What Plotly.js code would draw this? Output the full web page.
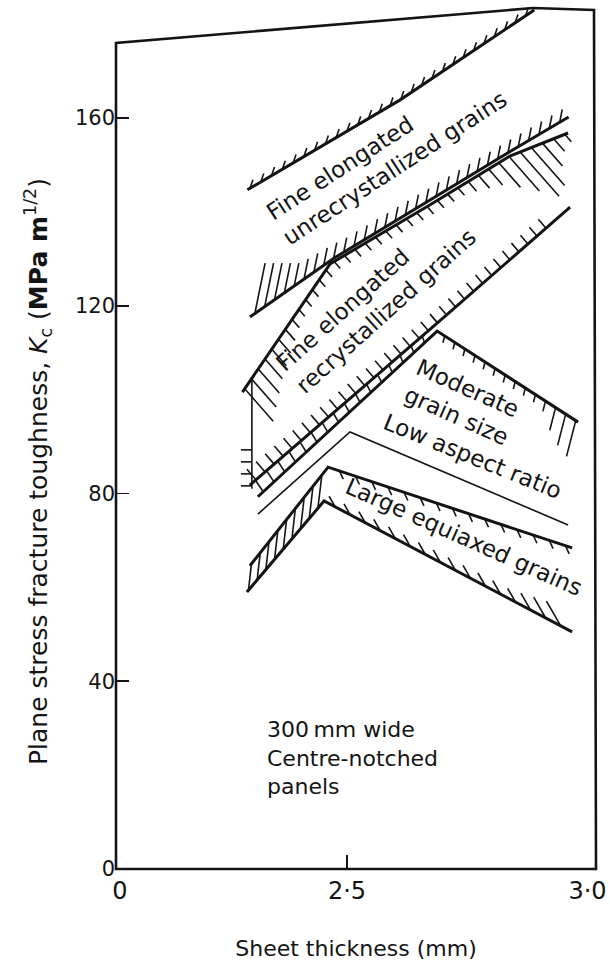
<!DOCTYPE html>
<html><head><meta charset="utf-8">
<script src="https://cdn.plot.ly/plotly-3.0.1.min.js"></script>
<style>html,body{margin:0;padding:0;background:#fff}</style>
</head><body><div id="chart" style="width:610px;height:964px"></div>
<script>
// ---- Data: sheet thickness (mm) vs plane stress fracture toughness Kc (MPa m^1/2) ----
const unrecUpperX = [2.30, 2.606, 2.876];
const unrecUpperY = [144.7, 163.8, 183.0];
const unrecLowerX = [2.305, 2.475, 2.825, 2.945];
const unrecLowerY = [117.6, 130.2, 152.7, 160.2];
const recrUpperX = [2.29, 2.466, 2.667, 2.827, 2.944];
const recrUpperY = [101.6, 128.9, 141.5, 151.9, 156.8];
const recrLowerX = [2.305, 2.677, 2.948];
const recrLowerY = [81.8, 115.9, 141.0];
const recrEdgeX = [2.309, 2.309];
const recrEdgeY = [104.7, 81.0];
const modUpperX = [2.321, 2.681, 2.964];
const modUpperY = [79.3, 114.6, 95.2];
const modLowerX = [2.321, 2.506, 2.944];
const modLowerY = [75.6, 93.1, 73.3];
const largeUpperX = [2.305, 2.462, 2.952];
const largeUpperY = [64.6, 85.6, 68.4];
const largeLowerX = [2.299, 2.454, 2.952];
const largeLowerY = [59.0, 78.4, 50.5];

const xTickVals = [2.044, 2.5, 2.983];
const xTickText = ['0', '2·5', '3·0'];
const yTickVals = [0, 40, 80, 120, 160];
const yTickText = ['0', '40', '80', '120', '160'];

// ---- Layout geometry ----
const INK = '#141414';
const FONT = 'DejaVu Sans';
const W = 610, H = 964;
const M = {l: 116, r: 14, t: 7, b: 95};
const plotW = W - M.l - M.r, plotH = H - M.t - M.b;
const xRange = [2.5 - 231 / 498, 3.0];
const yRange = [0, plotH / 4.694];

function toPx(x, y) {
  return [M.l + (x - xRange[0]) / (xRange[1] - xRange[0]) * plotW,
          M.t + (yRange[1] - y) / (yRange[1] - yRange[0]) * plotH];
}
function fromPx(p, q) {
  return [xRange[0] + (p - M.l) / plotW * (xRange[1] - xRange[0]),
          yRange[1] - (q - M.t) / plotH * (yRange[1] - yRange[0])];
}
function paper(p, q) { return {x: (p - M.l) / plotW, y: (H - M.b - q) / plotH}; }

function interp(pairs, f) {
  if (f <= pairs[0][0]) return pairs[0][1];
  for (let i = 1; i < pairs.length; i++) {
    if (f <= pairs[i][0]) {
      const a = pairs[i - 1], b = pairs[i];
      return a[1] + (b[1] - a[1]) * (f - a[0]) / (b[0] - a[0]);
    }
  }
  return pairs[pairs.length - 1][1];
}

// hatch ticks along a boundary line (computed from the line's own data)
function hatch(xs, ys, o, out) {
  const P = xs.map((x, i) => toPx(x, ys[i]));
  const cum = [0];
  for (let i = 1; i < P.length; i++) cum.push(cum[i - 1] + Math.hypot(P[i][0] - P[i - 1][0], P[i][1] - P[i - 1][1]));
  const L = cum[cum.length - 1];
  const d = o.dir, dn = Math.hypot(d[0], d[1]);
  const s0 = (o.from || 0) * L + (o.offset || 0), s1 = (o.to == null ? 1 : o.to) * L;
  for (let s = s0; s <= s1 + 0.01; s += o.step) {
    let k = 0;
    while (k < cum.length - 2 && cum[k + 1] < s) k++;
    const t = (s - cum[k]) / (cum[k + 1] - cum[k]);
    const x0 = P[k][0] + t * (P[k + 1][0] - P[k][0]);
    const y0 = P[k][1] + t * (P[k + 1][1] - P[k][1]);
    const len = interp(o.len, s / L);
    const a = fromPx(x0, y0), b = fromPx(x0 + d[0] / dn * len, y0 + d[1] / dn * len);
    out.x.push(a[0], b[0], null); out.y.push(a[1], b[1], null);
  }
}
// ladder rungs between the first segments of two lines
function ladder(ax, ay, bx, by, n, t0, t1, out) {
  for (let i = 0; i < n; i++) {
    const t = t0 + (t1 - t0) * i / (n - 1);
    out.x.push(ax[0] + t * (ax[1] - ax[0]), bx[0] + t * (bx[1] - bx[0]), null);
    out.y.push(ay[0] + t * (ay[1] - ay[0]), by[0] + t * (by[1] - by[0]), null);
  }
}

const hatchOut = {x: [], y: []};
hatch(unrecUpperX, unrecUpperY, {dir: [0.33, -0.94], step: 12.5, offset: 3, len: [[0, 9], [1, 9]]}, hatchOut);
hatch(unrecLowerX, unrecLowerY, {dir: [0.2, -0.98], step: 12, offset: 6, len: [[0, 55], [0.15, 22], [0.3, 15], [1, 13]]}, hatchOut);
hatch(recrUpperX, recrUpperY, {dir: [0.66, 0.75], step: 12, offset: 4,
  len: [[0, 45], [0.1, 25], [0.22, 9], [0.72, 10], [0.8, 22], [0.89, 64], [0.93, 33], [0.965, 16], [1, 8]]}, hatchOut);
hatch(recrLowerX, recrLowerY, {dir: [-0.65, -0.76], step: 12, offset: 8, len: [[0, 14], [0.7, 11], [1, 12]], to: 0.95}, hatchOut);
hatch(recrEdgeX, recrEdgeY, {dir: [-1, 0], step: 12, from: 0.65, len: [[0, 11], [1, 11]]}, hatchOut);
hatch(modUpperX, modUpperY, {dir: [-0.25, 0.97], step: 12, from: 0.6, offset: 6, len: [[0.6, 7], [0.9, 8], [0.95, 30], [1, 38]]}, hatchOut);
hatch(largeUpperX, largeUpperY, {dir: [0.42, 0.91], step: 17, from: 0.36, len: [[0, 9], [1, 9]]}, hatchOut);
hatch(largeLowerX, largeLowerY, {dir: [-0.5, -0.87], step: 17, from: 0.33, len: [[0.3, 12], [0.85, 16], [1, 32]]}, hatchOut);
ladder(recrLowerX, recrLowerY, modUpperX, modUpperY, 16, 0.03, 0.93, hatchOut);
ladder(largeUpperX, largeUpperY, largeLowerX, largeLowerY, 9, 0.02, 0.92, hatchOut);

const bound = (x, y, w, name) => ({x, y, mode: 'lines', name, line: {color: INK, width: w}, hoverinfo: 'skip', showlegend: false});
const traces = [
  bound(unrecUpperX, unrecUpperY, 3, 'Unrecrystallized upper'),
  bound(unrecLowerX, unrecLowerY, 3, 'Unrecrystallized lower'),
  bound(recrUpperX, recrUpperY, 3, 'Recrystallized upper'),
  bound(recrLowerX, recrLowerY, 3, 'Recrystallized lower'),
  bound(recrEdgeX, recrEdgeY, 1.6, 'Recrystallized edge'),
  bound(modUpperX, modUpperY, 3, 'Moderate upper'),
  bound(modLowerX, modLowerY, 1.6, 'Moderate lower'),
  bound(largeUpperX, largeUpperY, 3, 'Large equiaxed upper'),
  bound(largeLowerX, largeLowerY, 3, 'Large equiaxed lower'),
  {x: hatchOut.x, y: hatchOut.y, xaxis: 'x2', mode: 'lines', line: {color: INK, width: 1.6}, hoverinfo: 'skip', showlegend: false, connectgaps: false}
];

function ann(text, p, q, angle, size, extra) {
  const pp = paper(p, q);
  return Object.assign({text, x: pp.x, y: pp.y, xref: 'paper', yref: 'paper', showarrow: false,
    textangle: angle, xanchor: 'center', yanchor: 'middle', align: 'left',
    font: {family: FONT, size, color: INK}}, extra || {});
}

const fTop = paper(116, 43), fPeak = paper(533, 8), fRT = paper(594, 10);
const layout = {
  width: W, height: H, margin: M, paper_bgcolor: '#fff', plot_bgcolor: '#fff',
  font: {family: FONT, color: INK},
  showlegend: false,
  xaxis: {range: xRange, tickmode: 'array', tickvals: xTickVals, ticktext: xTickText, ticks: '',
    ticklabeloverflow: 'allow', ticklabelstandoff: 5,
    showgrid: false, zeroline: false, showline: false, tickfont: {family: FONT, size: 24, color: INK},
    title: {text: 'Sheet thickness (mm)', font: {family: FONT, size: 22, color: INK}, standoff: 36}},
  xaxis2: {range: xRange, overlaying: 'x', anchor: 'y', side: 'bottom', tickmode: 'array', tickvals: [2.5],
    ticks: 'inside', ticklen: 14, tickwidth: 2.2, tickcolor: INK, showticklabels: false, showgrid: false, zeroline: false, showline: false},
  yaxis: {range: yRange, tickmode: 'array', tickvals: yTickVals, ticktext: yTickText, ticks: 'inside', ticklen: 13,
    tickwidth: 1.6, tickcolor: INK, showgrid: false, zeroline: false, showline: false,
    tickfont: {family: FONT, size: 21, color: INK}},
  shapes: [{type: 'path', xref: 'paper', yref: 'paper',
    path: `M 0 0 L 0 ${fTop.y} L ${fPeak.x} ${fPeak.y} L ${fRT.x} ${fRT.y} L 1 0 Z`,
    line: {color: INK, width: 2.6}}],
  annotations: [
    ann('Fine elongated<br>unrecrystallized grains', 386, 156, -33, 23),
    ann('Fine elongated<br>recrystallized grains', 376, 300, -42, 23),
    ann('Moderate<br>grain size', 462, 402, 24, 23),
    ann('Low aspect ratio', 472, 456, 22, 23),
    ann('Large equiaxed grains', 464, 537, 24, 23),
    ann('300\u2009mm wide<br>Centre-notched<br>panels', 265, 758, 0, 22, {xanchor: 'left'}),
    ann('Plane stress fracture toughness, <i>K</i><sub>c</sub> (<b>MPa m</b><sup>1/2</sup>)', 38, 472, -90, 25, {align: 'center'})
  ]
};
Plotly.newPlot('chart', traces, layout, {staticPlot: true, displayModeBar: false});
</script></body></html>
